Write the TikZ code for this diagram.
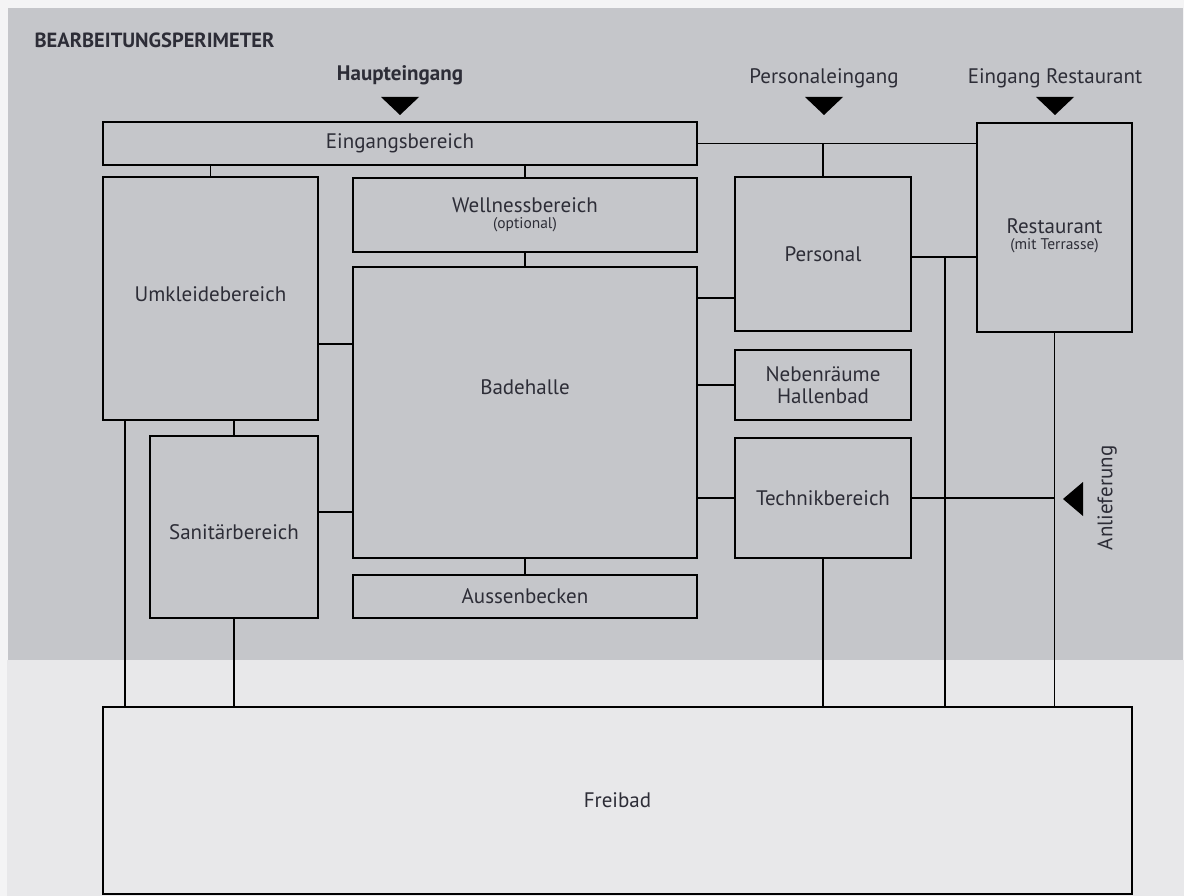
\documentclass[tikz,border=0pt]{standalone}
\usepackage{fontspec}
\setmainfont{PT Sans}
\definecolor{rand}{RGB}{244,244,245}
\definecolor{perimeter}{RGB}{197,198,202}
\definecolor{aussen}{RGB}{232,232,234}
\definecolor{schrift}{RGB}{45,45,55}
\newcommand{\klein}{\fontsize{15.5}{16}\selectfont}
\begin{document}
\begin{tikzpicture}[x=1pt,y=-1pt,
    raum/.style={draw=black, line width=1.2pt, inner sep=0pt, align=center,
      text=schrift, font=\fontsize{21}{22}\selectfont},
    zugang/.style={text=schrift, font=\fontsize{21}{22}\selectfont},
    linie/.style={line width=1.2pt}]
    \useasboundingbox (0,0) rectangle (1184,896);

    % Background
    \fill[rand] (0,0) rectangle (1184,896);
    \fill[perimeter] (8,8) rectangle (1183,660);
    \fill[aussen] (7,660) rectangle (1184,896);
    \node[anchor=west, text=schrift, font=\bfseries\fontsize{20.5}{22}\selectfont] (titel) at (31,40) {BEARBEITUNGSPERIMETER};

    % Rooms
    \node[raum, minimum width=594pt, minimum height=43pt] (eingang) at (400,143.5) {Eingangsbereich};
    \node[raum, minimum width=215pt, minimum height=243pt,
      label={[yshift=4pt, zugang]center:Umkleidebereich}] (umkleide) at (210.5,298.5) {};
    \node[raum, minimum width=344pt, minimum height=74pt] (wellness) at (525,215) {Wellnessbereich\\[-6pt]{\klein (optional)}};
    \node[raum, minimum width=344pt, minimum height=291pt,
      label={[yshift=25pt, zugang]center:Badehalle}] (badehalle) at (525,412.5) {};
    \node[raum, minimum width=344pt, minimum height=43pt] (aussenbecken) at (525,596.5) {Aussenbecken};
    \node[raum, minimum width=168pt, minimum height=182pt,
      label={[yshift=-5pt, zugang]center:Sanitärbereich}] (sanitaer) at (234,527) {};
    \node[raum, minimum width=176pt, minimum height=154pt] (personal) at (823,254) {Personal};
    \node[raum, minimum width=176pt, minimum height=70pt] (neben) at (823,385) {Nebenräume\\Hallenbad};
    \node[raum, minimum width=176pt, minimum height=120pt] (technik) at (823,498) {Technikbereich};
    \node[raum, minimum width=155pt, minimum height=209pt,
      label={[yshift=-8pt, zugang, align=center]center:Restaurant\\[-6pt]{\klein (mit Terrasse)}}] (restaurant) at (1054.5,227.5) {};
    \node[raum, minimum width=1029pt, minimum height=187pt] (freibad) at (617.5,800.5) {Freibad};

    % Entrances
    \node[zugang, font=\bfseries\fontsize{21}{22}\selectfont] (haupt) at (400,75) {Haupteingang};
    \node[zugang] (personaleingang) at (824,78) {Personaleingang};
    \node[zugang] (restauranteingang) at (1055,78) {Eingang Restaurant};
    \foreach \xpos in {400,824,1055}
    {
      \fill (\xpos-19,97) -- (\xpos+19,97) -- (\xpos,115) -- cycle;
    };
    \node[zugang, rotate=90] (anlieferung) at (1107,498) {Anlieferung};
    \fill (1063,499) -- (1083,482) -- (1083,516) -- cycle;

    % Connections
    \draw[linie] (umkleide.north) -- (umkleide.north |- eingang.south);
    \draw[linie] (wellness.north) -- (wellness.north |- eingang.south);
    \draw[linie] (wellness.south) -- (badehalle.north);
    \draw[linie] (badehalle.south) -- (aussenbecken.north);
    \draw[linie] (umkleide.east |- 0,344) -- (badehalle.west |- 0,344);
    \draw[linie] (sanitaer.north) -- (sanitaer.north |- umkleide.south);
    \draw[linie] (sanitaer.east |- 0,512) -- (badehalle.west |- 0,512);
    \draw[linie] (umkleide.south -| 125,0) -- (freibad.north -| 125,0);
    \draw[linie] (sanitaer.south) -- (sanitaer.south |- freibad.north);
    \draw[linie] (eingang.east) -- (eingang.east -| restaurant.west);
    \draw[linie] (personal.north) -- (personal.north |- eingang.east);
    \draw[linie] (badehalle.east |- 0,298) -- (personal.west |- 0,298);
    \draw[linie] (neben.west) -- (neben.west -| badehalle.east);
    \draw[linie] (technik.west) -- (technik.west -| badehalle.east);
    \draw[linie] (personal.east |- 0,257) -- (restaurant.west |- 0,257);
    \draw[linie] (945,257) -- (freibad.north -| 945,0);
    \draw[linie] (restaurant.south) -- (restaurant.south |- freibad.north);
    \draw[linie] (technik.east) -- (technik.east -| restaurant.south);
    \draw[linie] (technik.south) -- (technik.south |- freibad.north);

\end{tikzpicture}
\end{document}
